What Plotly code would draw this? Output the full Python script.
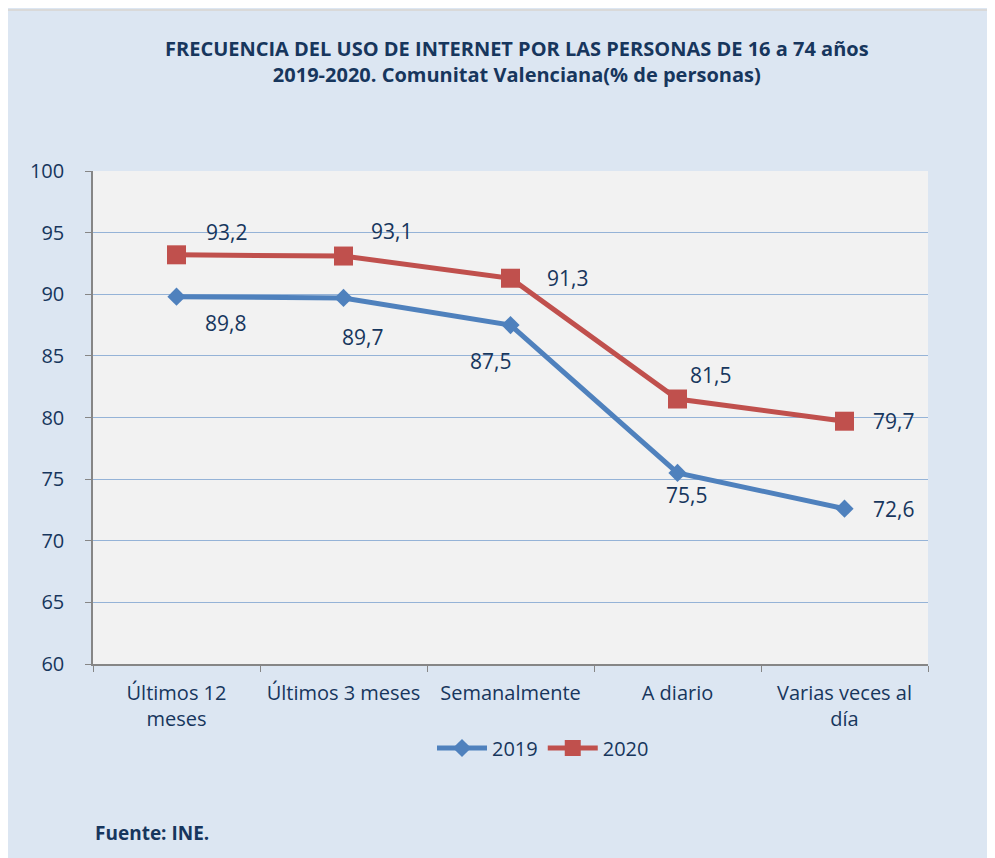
import plotly.graph_objects as go

categories = ["Últimos 12<br>meses", "Últimos 3 meses", "Semanalmente", "A diario", "Varias veces al<br>día"]
values_2019 = [89.8, 89.7, 87.5, 75.5, 72.6]
values_2020 = [93.2, 93.1, 91.3, 81.5, 79.7]
labels_2019 = ["89,8", "89,7", "87,5", "75,5", "72,6"]
labels_2020 = ["93,2", "93,1", "91,3", "81,5", "79,7"]
y_ticks = [60, 65, 70, 75, 80, 85, 90, 95, 100]

# label offsets in pixels (style)
off_2019 = [(49, 26), (19, 39), (-20, 36), (9, 22), (49, 0)]
off_2020 = [(50, -23), (48, -25), (57, 0), (33, -24), (49, 0)]

NAVY = "#17365d"
BLUE = "#4f81bd"
RED = "#c0504d"
FONT = "Open Sans"

W, H = 995, 858
L, R, T, B = 85, 75, 163, 202
pw, ph = W - L - R, H - T - B

def px_x(p):
    return (p - L) / pw

def px_y(p):
    return (H - B - p) / ph

fig = go.Figure()
fig.add_trace(go.Scatter(
    x=categories, y=values_2019, name="2019", mode="lines+markers",
    line=dict(color=BLUE, width=5),
    marker=dict(symbol="diamond", size=14, color=BLUE),
))
fig.add_trace(go.Scatter(
    x=categories, y=values_2020, name="2020", mode="lines+markers",
    line=dict(color=RED, width=5),
    marker=dict(symbol="square", size=19, color=RED),
))

annotations = []
for cat, v, lab, (dx, dy) in zip(categories, values_2019, labels_2019, off_2019):
    annotations.append(dict(x=cat, y=v, text=lab, showarrow=False, xshift=dx, yshift=-dy,
                            font=dict(family=FONT, size=21, color=NAVY)))
for cat, v, lab, (dx, dy) in zip(categories, values_2020, labels_2020, off_2020):
    annotations.append(dict(x=cat, y=v, text=lab, showarrow=False, xshift=dx, yshift=-dy,
                            font=dict(family=FONT, size=21, color=NAVY)))

annotations.append(dict(
    xref="paper", yref="paper", x=px_x(509), y=px_y(53.5), xanchor="center", yanchor="middle",
    text="<b>FRECUENCIA DEL USO DE INTERNET POR LAS PERSONAS DE 16 a 74 años<br>2019-2020. Comunitat Valenciana(% de personas)</b>",
    showarrow=False, font=dict(family=FONT, size=20, color=NAVY)))
annotations.append(dict(
    xref="paper", yref="paper", x=px_x(85), y=px_y(825), xanchor="left", yanchor="middle",
    text="<b>Fuente: INE.</b>", showarrow=False,
    font=dict(family=FONT, size=19, color=NAVY)))

shapes = [dict(type="line", xref="paper", yref="paper",
               x0=px_x(0), x1=px_x(W), y0=px_y(2), y1=px_y(2),
               line=dict(color="#d9d9d9", width=2))]

fig.update_layout(
    width=W, height=H,
    margin=dict(l=L, r=R, t=T, b=B),
    paper_bgcolor="#dce6f2",
    plot_bgcolor="#f2f2f2",
    font=dict(family=FONT, color=NAVY, size=20),
    showlegend=True,
    legend=dict(orientation="h", x=px_x(535), xanchor="center", y=px_y(740), yanchor="middle",
                bgcolor="rgba(0,0,0,0)", font=dict(size=20, color=NAVY), itemwidth=50,
                tracegroupgap=0),
    annotations=annotations,
    shapes=shapes,
    xaxis=dict(
        type="category", tickson="boundaries", ticks="outside", ticklen=6,
        tickcolor="#868686", showline=True, linecolor="#868686", linewidth=1.5,
        showgrid=False, tickfont=dict(size=20, color=NAVY), range=[-0.5, 4.5],
        ticklabelstandoff=10,
    ),
    yaxis=dict(
        range=[60, 100], tickvals=y_ticks, ticks="outside", ticklen=6,
        tickcolor="#868686", showline=True, linecolor="#868686", linewidth=1.5,
        showgrid=True, gridcolor="#95b3d7", gridwidth=1.2, zeroline=False,
        tickfont=dict(size=20, color=NAVY), ticklabelstandoff=17,
    ),
)

fig.write_html("out.html")
